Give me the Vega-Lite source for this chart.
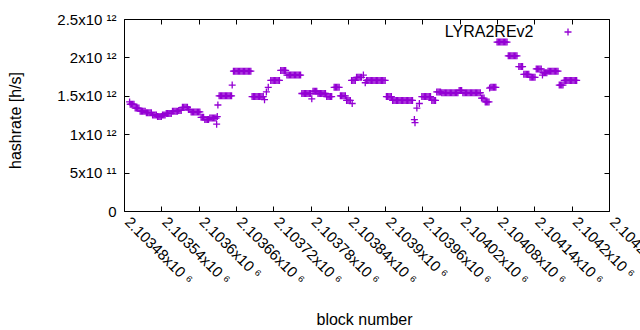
{
"$schema": "https://vega.github.io/schema/vega-lite/v6.json",
"width": 485, "height": 192,
"autosize": {"type": "none"},
"padding": {"left": 124, "top": 19, "right": 31, "bottom": 119},
"background": "white",
"config": {
  "font": "Liberation Sans",
  "view": {"stroke": "black", "strokeWidth": 1},
  "axis": {"grid": false, "domain": false, "tickColor": "black", "tickSize": -5, "tickWidth": 1, "labelColor": "black", "labelFontSize": 15, "titleFontSize": 16, "titleFontWeight": "normal", "titleColor": "black", "labelFont": "Liberation Sans", "titleFont": "Liberation Sans", "labelOverlap": false, "labelFlush": false, "labelBound": false}
},
"data": {"values": [
{"block":2103489,"hashrate":1.42e12},
{"block":2103490,"hashrate":1.39e12},{"block":2103492,"hashrate":1.39e12},{"block":2103494,"hashrate":1.39e12},{"block":2103496,"hashrate":1.39e12},
{"block":2103498,"hashrate":1.34e12},{"block":2103500,"hashrate":1.34e12},{"block":2103502,"hashrate":1.34e12},{"block":2103504,"hashrate":1.34e12},
{"block":2103506,"hashrate":1.30e12},{"block":2103508,"hashrate":1.30e12},{"block":2103510,"hashrate":1.30e12},{"block":2103512,"hashrate":1.30e12},{"block":2103514,"hashrate":1.30e12},
{"block":2103516,"hashrate":1.28e12},{"block":2103518,"hashrate":1.28e12},{"block":2103520,"hashrate":1.28e12},{"block":2103522,"hashrate":1.28e12},{"block":2103524,"hashrate":1.28e12},
{"block":2103526,"hashrate":1.25e12},{"block":2103528,"hashrate":1.25e12},{"block":2103530,"hashrate":1.25e12},{"block":2103532,"hashrate":1.25e12},
{"block":2103534,"hashrate":1.23e12},{"block":2103536,"hashrate":1.23e12},{"block":2103538,"hashrate":1.23e12},{"block":2103540,"hashrate":1.23e12},
{"block":2103542,"hashrate":1.25e12},{"block":2103544,"hashrate":1.25e12},{"block":2103546,"hashrate":1.25e12},
{"block":2103548,"hashrate":1.27e12},{"block":2103550,"hashrate":1.27e12},{"block":2103552,"hashrate":1.27e12},{"block":2103554,"hashrate":1.27e12},{"block":2103556,"hashrate":1.27e12},
{"block":2103558,"hashrate":1.30e12},{"block":2103560,"hashrate":1.30e12},{"block":2103562,"hashrate":1.30e12},{"block":2103564,"hashrate":1.30e12},{"block":2103566,"hashrate":1.30e12},
{"block":2103568,"hashrate":1.31e12},{"block":2103570,"hashrate":1.31e12},{"block":2103572,"hashrate":1.31e12},
{"block":2103574,"hashrate":1.35e12},{"block":2103576,"hashrate":1.35e12},{"block":2103578,"hashrate":1.35e12},{"block":2103580,"hashrate":1.35e12},{"block":2103582,"hashrate":1.35e12},
{"block":2103584,"hashrate":1.32e12},{"block":2103586,"hashrate":1.32e12},
{"block":2103588,"hashrate":1.29e12},{"block":2103590,"hashrate":1.29e12},{"block":2103592,"hashrate":1.29e12},{"block":2103594,"hashrate":1.29e12},{"block":2103596,"hashrate":1.29e12},{"block":2103598,"hashrate":1.29e12},{"block":2103600,"hashrate":1.29e12},{"block":2103602,"hashrate":1.29e12},
{"block":2103604,"hashrate":1.22e12},{"block":2103606,"hashrate":1.22e12},{"block":2103608,"hashrate":1.22e12},
{"block":2103610,"hashrate":1.19e12},{"block":2103612,"hashrate":1.19e12},{"block":2103614,"hashrate":1.19e12},{"block":2103616,"hashrate":1.19e12},
{"block":2103618,"hashrate":1.21e12},{"block":2103620,"hashrate":1.21e12},{"block":2103622,"hashrate":1.21e12},{"block":2103624,"hashrate":1.21e12},{"block":2103626,"hashrate":1.21e12},{"block":2103628,"hashrate":1.21e12},
{"block":2103629,"hashrate":1.13e12},{"block":2103630,"hashrate":1.23e12},{"block":2103631,"hashrate":1.38e12},
{"block":2103633,"hashrate":1.50e12},{"block":2103635,"hashrate":1.50e12},{"block":2103637,"hashrate":1.50e12},{"block":2103639,"hashrate":1.50e12},{"block":2103641,"hashrate":1.50e12},{"block":2103643,"hashrate":1.50e12},{"block":2103645,"hashrate":1.50e12},{"block":2103647,"hashrate":1.50e12},{"block":2103649,"hashrate":1.50e12},{"block":2103651,"hashrate":1.50e12},{"block":2103653,"hashrate":1.50e12},
{"block":2103654,"hashrate":1.64e12},
{"block":2103656,"hashrate":1.82e12},{"block":2103658,"hashrate":1.82e12},{"block":2103660,"hashrate":1.82e12},{"block":2103662,"hashrate":1.82e12},{"block":2103664,"hashrate":1.82e12},{"block":2103666,"hashrate":1.82e12},{"block":2103668,"hashrate":1.82e12},{"block":2103670,"hashrate":1.82e12},{"block":2103672,"hashrate":1.82e12},{"block":2103674,"hashrate":1.82e12},{"block":2103676,"hashrate":1.82e12},{"block":2103678,"hashrate":1.82e12},{"block":2103680,"hashrate":1.82e12},{"block":2103682,"hashrate":1.82e12},{"block":2103684,"hashrate":1.82e12},
{"block":2103686,"hashrate":1.49e12},{"block":2103688,"hashrate":1.49e12},{"block":2103690,"hashrate":1.49e12},{"block":2103692,"hashrate":1.49e12},{"block":2103694,"hashrate":1.49e12},{"block":2103696,"hashrate":1.49e12},{"block":2103698,"hashrate":1.49e12},{"block":2103700,"hashrate":1.49e12},{"block":2103702,"hashrate":1.49e12},{"block":2103704,"hashrate":1.49e12},
{"block":2103706,"hashrate":1.45e12},{"block":2103709,"hashrate":1.55e12},{"block":2103712,"hashrate":1.61e12},
{"block":2103716,"hashrate":1.70e12},{"block":2103718,"hashrate":1.70e12},{"block":2103720,"hashrate":1.70e12},{"block":2103722,"hashrate":1.70e12},{"block":2103724,"hashrate":1.70e12},{"block":2103726,"hashrate":1.70e12},{"block":2103728,"hashrate":1.70e12},{"block":2103730,"hashrate":1.70e12},
{"block":2103732,"hashrate":1.83e12},{"block":2103734,"hashrate":1.83e12},{"block":2103736,"hashrate":1.83e12},{"block":2103738,"hashrate":1.83e12},{"block":2103740,"hashrate":1.83e12},
{"block":2103742,"hashrate":1.77e12},{"block":2103744,"hashrate":1.77e12},{"block":2103746,"hashrate":1.77e12},{"block":2103748,"hashrate":1.77e12},{"block":2103750,"hashrate":1.77e12},{"block":2103752,"hashrate":1.77e12},{"block":2103754,"hashrate":1.77e12},{"block":2103756,"hashrate":1.77e12},{"block":2103758,"hashrate":1.77e12},{"block":2103760,"hashrate":1.77e12},{"block":2103762,"hashrate":1.77e12},{"block":2103764,"hashrate":1.77e12},
{"block":2103766,"hashrate":1.53e12},{"block":2103768,"hashrate":1.53e12},{"block":2103770,"hashrate":1.53e12},{"block":2103772,"hashrate":1.53e12},{"block":2103774,"hashrate":1.53e12},{"block":2103776,"hashrate":1.53e12},{"block":2103778,"hashrate":1.53e12},{"block":2103780,"hashrate":1.53e12},
{"block":2103782,"hashrate":1.46e12},
{"block":2103784,"hashrate":1.56e12},{"block":2103786,"hashrate":1.56e12},{"block":2103788,"hashrate":1.56e12},{"block":2103790,"hashrate":1.56e12},
{"block":2103792,"hashrate":1.53e12},{"block":2103794,"hashrate":1.53e12},{"block":2103796,"hashrate":1.53e12},{"block":2103798,"hashrate":1.53e12},{"block":2103800,"hashrate":1.53e12},{"block":2103802,"hashrate":1.53e12},{"block":2103804,"hashrate":1.53e12},
{"block":2103806,"hashrate":1.49e12},{"block":2103808,"hashrate":1.49e12},{"block":2103810,"hashrate":1.49e12},{"block":2103812,"hashrate":1.49e12},{"block":2103814,"hashrate":1.49e12},
{"block":2103818,"hashrate":1.61e12},{"block":2103820,"hashrate":1.61e12},{"block":2103822,"hashrate":1.61e12},{"block":2103824,"hashrate":1.61e12},{"block":2103826,"hashrate":1.61e12},
{"block":2103828,"hashrate":1.50e12},{"block":2103830,"hashrate":1.50e12},{"block":2103832,"hashrate":1.50e12},{"block":2103834,"hashrate":1.50e12},{"block":2103836,"hashrate":1.50e12},
{"block":2103838,"hashrate":1.44e12},{"block":2103840,"hashrate":1.44e12},{"block":2103842,"hashrate":1.44e12},{"block":2103844,"hashrate":1.44e12},
{"block":2103846,"hashrate":1.70e12},{"block":2103847,"hashrate":1.40e12},{"block":2103848,"hashrate":1.70e12},{"block":2103850,"hashrate":1.70e12},{"block":2103852,"hashrate":1.70e12},
{"block":2103854,"hashrate":1.74e12},{"block":2103856,"hashrate":1.74e12},{"block":2103858,"hashrate":1.74e12},{"block":2103860,"hashrate":1.74e12},{"block":2103862,"hashrate":1.74e12},
{"block":2103865,"hashrate":1.77e12},{"block":2103868,"hashrate":1.67e12},
{"block":2103870,"hashrate":1.70e12},{"block":2103872,"hashrate":1.70e12},{"block":2103874,"hashrate":1.70e12},{"block":2103876,"hashrate":1.70e12},{"block":2103878,"hashrate":1.70e12},{"block":2103880,"hashrate":1.70e12},{"block":2103882,"hashrate":1.70e12},{"block":2103884,"hashrate":1.70e12},{"block":2103886,"hashrate":1.70e12},{"block":2103888,"hashrate":1.70e12},{"block":2103890,"hashrate":1.70e12},{"block":2103892,"hashrate":1.70e12},{"block":2103894,"hashrate":1.70e12},{"block":2103896,"hashrate":1.70e12},{"block":2103898,"hashrate":1.70e12},{"block":2103900,"hashrate":1.70e12},
{"block":2103902,"hashrate":1.49e12},{"block":2103904,"hashrate":1.49e12},{"block":2103906,"hashrate":1.49e12},{"block":2103908,"hashrate":1.49e12},{"block":2103910,"hashrate":1.49e12},
{"block":2103912,"hashrate":1.44e12},{"block":2103914,"hashrate":1.44e12},{"block":2103916,"hashrate":1.44e12},{"block":2103918,"hashrate":1.44e12},{"block":2103920,"hashrate":1.44e12},{"block":2103922,"hashrate":1.44e12},{"block":2103924,"hashrate":1.44e12},{"block":2103926,"hashrate":1.44e12},{"block":2103928,"hashrate":1.44e12},{"block":2103930,"hashrate":1.44e12},{"block":2103932,"hashrate":1.44e12},{"block":2103934,"hashrate":1.44e12},{"block":2103936,"hashrate":1.44e12},{"block":2103938,"hashrate":1.44e12},{"block":2103940,"hashrate":1.44e12},{"block":2103942,"hashrate":1.44e12},{"block":2103944,"hashrate":1.44e12},
{"block":2103947,"hashrate":1.19e12},{"block":2103948,"hashrate":1.15e12},
{"block":2103951,"hashrate":1.34e12},{"block":2103955,"hashrate":1.40e12},
{"block":2103959,"hashrate":1.49e12},{"block":2103961,"hashrate":1.49e12},{"block":2103963,"hashrate":1.49e12},{"block":2103965,"hashrate":1.49e12},{"block":2103967,"hashrate":1.49e12},{"block":2103969,"hashrate":1.49e12},{"block":2103971,"hashrate":1.49e12},{"block":2103973,"hashrate":1.49e12},
{"block":2103975,"hashrate":1.44e12},{"block":2103977,"hashrate":1.44e12},{"block":2103979,"hashrate":1.44e12},{"block":2103981,"hashrate":1.44e12},
{"block":2103983,"hashrate":1.55e12},{"block":2103985,"hashrate":1.55e12},{"block":2103987,"hashrate":1.55e12},{"block":2103989,"hashrate":1.55e12},
{"block":2103991,"hashrate":1.54e12},{"block":2103993,"hashrate":1.54e12},{"block":2103995,"hashrate":1.54e12},{"block":2103997,"hashrate":1.54e12},{"block":2103999,"hashrate":1.54e12},{"block":2104001,"hashrate":1.54e12},{"block":2104003,"hashrate":1.54e12},{"block":2104005,"hashrate":1.54e12},{"block":2104007,"hashrate":1.54e12},{"block":2104009,"hashrate":1.54e12},{"block":2104011,"hashrate":1.54e12},{"block":2104013,"hashrate":1.54e12},{"block":2104015,"hashrate":1.54e12},{"block":2104017,"hashrate":1.54e12},
{"block":2104019,"hashrate":1.57e12},{"block":2104021,"hashrate":1.57e12},{"block":2104023,"hashrate":1.57e12},
{"block":2104025,"hashrate":1.54e12},{"block":2104027,"hashrate":1.54e12},{"block":2104029,"hashrate":1.54e12},{"block":2104031,"hashrate":1.54e12},{"block":2104033,"hashrate":1.54e12},{"block":2104035,"hashrate":1.54e12},{"block":2104037,"hashrate":1.54e12},{"block":2104039,"hashrate":1.54e12},{"block":2104041,"hashrate":1.54e12},{"block":2104043,"hashrate":1.54e12},{"block":2104045,"hashrate":1.54e12},{"block":2104047,"hashrate":1.54e12},{"block":2104049,"hashrate":1.54e12},{"block":2104051,"hashrate":1.54e12},{"block":2104053,"hashrate":1.54e12},
{"block":2104055,"hashrate":1.47e12},{"block":2104057,"hashrate":1.47e12},{"block":2104059,"hashrate":1.47e12},
{"block":2104061,"hashrate":1.42e12},{"block":2104063,"hashrate":1.42e12},{"block":2104065,"hashrate":1.42e12},{"block":2104067,"hashrate":1.42e12},
{"block":2104068,"hashrate":1.60e12},
{"block":2104070,"hashrate":1.61e12},{"block":2104072,"hashrate":1.61e12},{"block":2104074,"hashrate":1.61e12},{"block":2104076,"hashrate":1.61e12},{"block":2104078,"hashrate":1.61e12},
{"block":2104080,"hashrate":2.20e12},{"block":2104082,"hashrate":2.20e12},{"block":2104084,"hashrate":2.20e12},{"block":2104086,"hashrate":2.20e12},{"block":2104088,"hashrate":2.20e12},{"block":2104090,"hashrate":2.20e12},{"block":2104092,"hashrate":2.20e12},{"block":2104094,"hashrate":2.20e12},{"block":2104096,"hashrate":2.20e12},
{"block":2104098,"hashrate":2.02e12},{"block":2104100,"hashrate":2.02e12},{"block":2104102,"hashrate":2.02e12},{"block":2104104,"hashrate":2.02e12},{"block":2104106,"hashrate":2.02e12},{"block":2104108,"hashrate":2.02e12},{"block":2104110,"hashrate":2.02e12},{"block":2104112,"hashrate":2.02e12},
{"block":2104115,"hashrate":1.88e12},{"block":2104117,"hashrate":1.88e12},{"block":2104119,"hashrate":1.88e12},{"block":2104121,"hashrate":1.88e12},
{"block":2104123,"hashrate":1.78e12},{"block":2104125,"hashrate":1.78e12},{"block":2104127,"hashrate":1.78e12},{"block":2104129,"hashrate":1.78e12},{"block":2104131,"hashrate":1.78e12},
{"block":2104133,"hashrate":1.74e12},{"block":2104135,"hashrate":1.74e12},{"block":2104137,"hashrate":1.74e12},{"block":2104139,"hashrate":1.74e12},{"block":2104141,"hashrate":1.74e12},
{"block":2104143,"hashrate":1.85e12},{"block":2104145,"hashrate":1.85e12},{"block":2104147,"hashrate":1.85e12},{"block":2104149,"hashrate":1.85e12},{"block":2104151,"hashrate":1.85e12},
{"block":2104153,"hashrate":1.77e12},
{"block":2104154,"hashrate":1.80e12},{"block":2104156,"hashrate":1.80e12},{"block":2104158,"hashrate":1.80e12},{"block":2104160,"hashrate":1.80e12},
{"block":2104162,"hashrate":1.82e12},{"block":2104164,"hashrate":1.82e12},{"block":2104166,"hashrate":1.82e12},{"block":2104168,"hashrate":1.82e12},{"block":2104170,"hashrate":1.82e12},{"block":2104172,"hashrate":1.82e12},{"block":2104174,"hashrate":1.82e12},{"block":2104176,"hashrate":1.82e12},{"block":2104178,"hashrate":1.82e12},
{"block":2104180,"hashrate":1.64e12},{"block":2104182,"hashrate":1.64e12},{"block":2104184,"hashrate":1.64e12},{"block":2104186,"hashrate":1.64e12},
{"block":2104188,"hashrate":1.70e12},{"block":2104190,"hashrate":1.70e12},{"block":2104192,"hashrate":1.70e12},{"block":2104194,"hashrate":1.70e12},{"block":2104196,"hashrate":1.70e12},{"block":2104198,"hashrate":1.70e12},{"block":2104200,"hashrate":1.70e12},{"block":2104202,"hashrate":1.70e12},{"block":2104204,"hashrate":1.70e12},{"block":2104206,"hashrate":1.70e12},{"block":2104208,"hashrate":1.70e12}
]},
"layer": [
  {
    "mark": {"type": "point", "shape": "M-1,0L1,0M0,-1L0,1", "filled": false, "size": 49, "strokeWidth": 1.3, "opacity": 1},
    "encoding": {
      "x": {"field": "block", "type": "quantitative",
        "scale": {"domain": [2103480, 2104260], "nice": false, "zero": false},
        "axis": {"orient": "bottom", "values": [2103480, 2103540, 2103600, 2103660, 2103720, 2103780, 2103840, 2103900, 2103960, 2104020, 2104080, 2104140, 2104200, 2104260],
          "labelExpr": "toString(datum.value / 1000000) + 'x10 ⁶'",
          "labelAngle": 45, "labelAlign": "left", "labelBaseline": "middle", "labelPadding": 13, "labelOffset": 3,
          "title": "block number", "titleX": 240, "titleY": 113, "titleBaseline": "alphabetic", "titleAlign": "center"}},
      "y": {"field": "hashrate", "type": "quantitative",
        "scale": {"domain": [0, 2500000000000], "nice": false, "zero": true},
        "axis": {"orient": "left", "values": [0, 500000000000, 1000000000000, 1500000000000, 2000000000000, 2500000000000],
          "labelExpr": "datum.value == 0 ? '0' : datum.value == 500000000000 ? '5x10 ¹¹' : toString(datum.value / 1000000000000) + 'x10 ¹²'",
          "labelAlign": "right", "labelBaseline": "middle", "labelPadding": 13,
          "title": "hashrate [h/s]", "titleAngle": -90, "titleX": -104, "titleY": 101, "titleBaseline": "alphabetic", "titleAlign": "center"}},
      "stroke": {"datum": "LYRA2REv2", "type": "nominal", "scale": {"range": ["#9400d3"]},
        "legend": {"title": null, "orient": "none", "legendX": 436, "legendY": 5, "padding": 0,
          "symbolType": "M-1,0L1,0M0,-1L0,1", "symbolSize": 49, "symbolStrokeWidth": 1.3, "symbolFillColor": "transparent",
          "labelFontSize": 16, "labelFont": "Liberation Sans", "labelColor": "black", "labelAlign": "right", "labelOffset": -42.5}}
    }
  },
  {
    "mark": {"type": "point", "opacity": 0},
    "encoding": {
      "x": {"field": "block", "type": "quantitative",
        "axis": {"orient": "top", "labels": false, "title": null, "values": [2103480, 2103540, 2103600, 2103660, 2103720, 2103780, 2103840, 2103900, 2103960, 2104020, 2104080, 2104140, 2104200, 2104260]}},
      "y": {"field": "hashrate", "type": "quantitative",
        "axis": {"orient": "right", "labels": false, "title": null, "values": [0, 500000000000, 1000000000000, 1500000000000, 2000000000000, 2500000000000]}}
    }
  }
],
"resolve": {"axis": {"x": "independent", "y": "independent"}}
}
